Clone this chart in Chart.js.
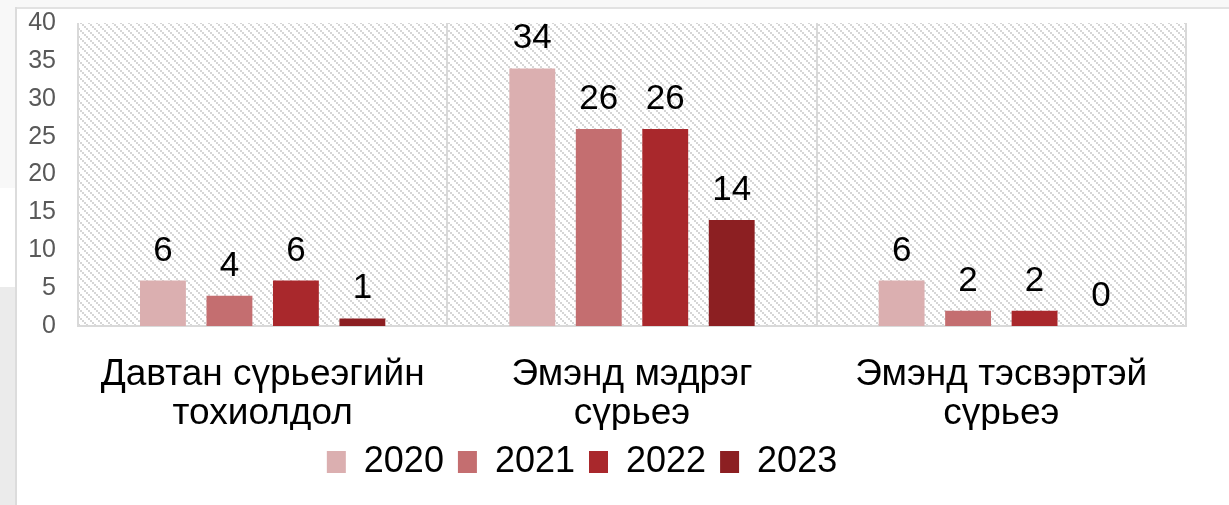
<!DOCTYPE html>
<html>
<head>
<meta charset="utf-8">
<script src="https://cdn.jsdelivr.net/npm/chart.js@4"></script>
<style>
  html, body { margin: 0; padding: 0; background: #fff; overflow: hidden; }
  .strip { position: absolute; }
  #wrap { position: absolute; left: -22px; top: 0; width: 1251px; height: 505px; }
</style>
</head>
<body>
<div class="strip" style="left:0;top:0;width:1229px;height:7px;background:#f8f8f8"></div>
<div class="strip" style="left:0;top:0;width:15px;height:188px;background:#f8f8f8"></div>
<div class="strip" style="left:0;top:287px;width:15px;height:218px;background:#ebebeb"></div>
<div class="strip" style="left:15px;top:7px;width:1214px;height:2px;background:#e2e2e2"></div>
<div class="strip" style="left:15px;top:7px;width:2px;height:498px;background:#dcdcdc"></div>
<div id="wrap"><canvas id="chart" width="1251" height="505"></canvas></div>

<script>
const categories = [
  ['Давтан сүрьеэгийн', 'тохиолдол'],
  ['Эмэнд мэдрэг', 'сүрьеэ'],
  ['Эмэнд тэсвэртэй', 'сүрьеэ']
];
const years = ['2020', '2021', '2022', '2023'];
const values2020 = [6, 34, 6];
const values2021 = [4, 26, 2];
const values2022 = [6, 26, 2];
const values2023 = [1, 14, 0];
const yTicks = [0, 5, 10, 15, 20, 25, 30, 35, 40];

const colors = ['#dbafb0', '#c46e70', '#a9282c', '#8c1f22'];
const FONT = '"Liberation Sans", Arial, sans-serif';

// light downward diagonal hatch for the plot area
function makeHatch(ctx) {
  const c = document.createElement('canvas');
  c.width = 8; c.height = 8;
  const g = c.getContext('2d');
  g.fillStyle = '#ffffff';
  g.fillRect(0, 0, 8, 8);
  g.fillStyle = '#d6d6d6';
  for (let i = 0; i < 8; i += 2) g.fillRect(i, i, 2, 2);
  return ctx.createPattern(c, 'repeat');
}

const hatchPlugin = {
  id: 'hatch',
  beforeDraw(chart) {
    const {ctx, chartArea: a} = chart;
    ctx.save();
    ctx.fillStyle = makeHatch(ctx);
    ctx.fillRect(a.left, a.top, a.right - a.left, a.bottom - a.top);
    ctx.restore();
  }
};

const valueLabels = {
  id: 'valueLabels',
  afterDatasetsDraw(chart) {
    const ctx = chart.ctx;
    ctx.save();
    ctx.font = '35px ' + FONT;
    ctx.fillStyle = '#000';
    ctx.textAlign = 'center';
    ctx.textBaseline = 'alphabetic';
    chart.data.datasets.forEach((ds, i) => {
      chart.getDatasetMeta(i).data.forEach((bar, j) => {
        ctx.fillText(ds.data[j], bar.x, bar.y - 20);
      });
    });
    ctx.restore();
  }
};

const seriesValues = [values2020, values2021, values2022, values2023];

new Chart(document.getElementById('chart'), {
  type: 'bar',
  data: {
    labels: categories,
    datasets: years.map((y, i) => ({
      label: y,
      data: seriesValues[i],
      backgroundColor: colors[i],
      borderWidth: 0,
      categoryPercentage: 0.72,
      barPercentage: 0.69
    }))
  },
  options: {
    responsive: false,
    animation: false,
    layout: { padding: { left: 0, right: 43, top: 23, bottom: 15 } },
    scales: {
      x: {
        grid: { display: true, color: '#d9d9d9', lineWidth: 2, drawTicks: false, offset: true },
        border: { display: true, color: '#d9d9d9', width: 2 },
        ticks: { color: '#000', font: { family: FONT, size: 37, lineHeight: 1.04 }, padding: 30, maxRotation: 0 },
        afterFit(scale) { scale.height = 104; }
      },
      y: {
        min: 0,
        max: 40,
        afterBuildTicks(scale) { scale.ticks = yTicks.map(v => ({ value: v })); },
        grid: { display: false, drawTicks: false },
        border: { display: false },
        ticks: { color: '#595959', font: { family: FONT, size: 25, lineHeight: 0.05 }, padding: 22 },
        afterFit(scale) { scale.width = 100; }
      }
    },
    plugins: {
      legend: {
        position: 'bottom',
        labels: {
          color: '#000',
          font: { family: FONT, size: 36 },
          boxWidth: 19,
          boxHeight: 22,
          padding: 14
        }
      },
      tooltip: { enabled: false }
    }
  },
  plugins: [hatchPlugin, valueLabels]
});
</script>
</body>
</html>
